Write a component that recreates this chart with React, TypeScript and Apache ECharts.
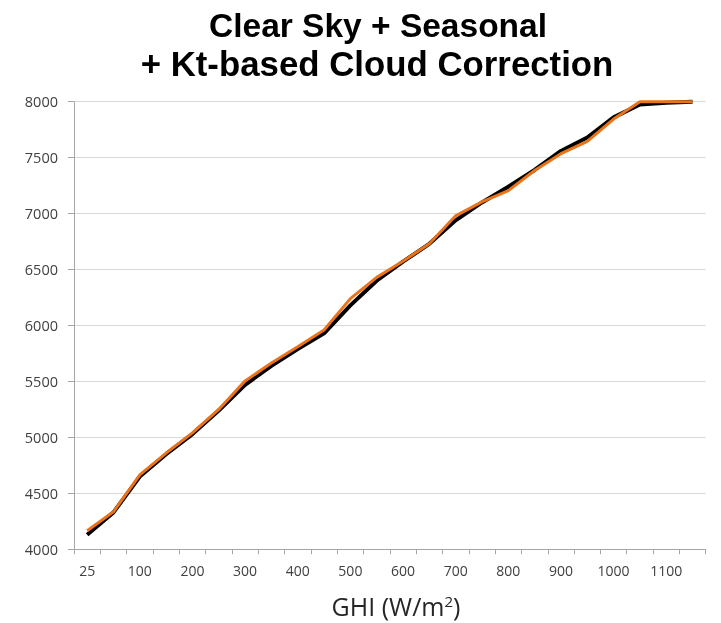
import React, { useEffect, useRef } from "react";
import * as echarts from "echarts";

const categories = ["25", "50", "100", "150", "200", "250", "300", "350", "400", "450", "500", "550", "600", "650", "700", "750", "800", "850", "900", "950", "1000", "1050", "1100", "1150"];
const blackSeries = [4130, 4330, 4650, 4850, 5030, 5240, 5470, 5640, 5790, 5930, 6180, 6400, 6570, 6730, 6940, 7100, 7240, 7390, 7560, 7680, 7860, 7975, 7990, 8000];
const orangeSeries = [4165, 4335, 4665, 4860, 5040, 5250, 5505, 5665, 5810, 5960, 6240, 6430, 6575, 6730, 6980, 7105, 7205, 7385, 7535, 7645, 7845, 8000, 8000, 8000];
const titleLines = ["Clear Sky + Seasonal", "+ Kt-based Cloud Correction"];

export default function App() {
  const ref = useRef<HTMLDivElement>(null);
  useEffect(() => {
    if (!ref.current) return;
    const chart = echarts.init(ref.current, null, { renderer: "svg" });
    chart.setOption({
      animation: false,
      grid: { left: 74, right: 15.3, top: 101.7, bottom: 73.7, containLabel: false },
      xAxis: {
        type: "category",
        data: categories,
        boundaryGap: true,
        axisLine: { show: true, lineStyle: { color: "#A6A6A6", width: 1 } },
        axisTick: { show: true, interval: 0, length: 5, lineStyle: { color: "#A6A6A6" } },
        axisLabel: { interval: 1, margin: 14, color: "#404040", fontFamily: "Open Sans", fontSize: 14 },
        splitLine: { show: false },
      },
      yAxis: {
        type: "value",
        min: 4000,
        max: 8000,
        interval: 500,
        axisLine: { show: true, lineStyle: { color: "#A6A6A6", width: 1 } },
        axisTick: { show: true, length: 6, lineStyle: { color: "#A6A6A6" } },
        axisLabel: {
          margin: 16,
          color: "#404040",
          fontFamily: "Open Sans",
          fontSize: 14.5,
          formatter: (v: number) => String(v),
        },
        splitLine: { show: true, lineStyle: { color: "#D9D9D9", width: 1 } },
      },
      series: [
        {
          type: "line",
          data: blackSeries,
          showSymbol: false,
          clip: false,
          lineStyle: { color: "#000000", width: 4 },
          z: 2,
        },
        {
          type: "line",
          data: orangeSeries,
          showSymbol: false,
          clip: false,
          lineStyle: { color: "#EA7319", width: 3 },
          z: 3,
        },
      ],
      graphic: [
        {
          type: "text",
          x: 378,
          y: 8,
          style: {
            text: titleLines[0],
            fontFamily: "Liberation Sans",
            fontWeight: "bold",
            fontSize: 33.5,
            fill: "#000000",
            align: "center",
            verticalAlign: "top",
          },
        },
        {
          type: "text",
          x: 377,
          y: 45.5,
          style: {
            text: titleLines[1],
            fontFamily: "Liberation Sans",
            fontWeight: "bold",
            fontSize: 34.8,
            fill: "#000000",
            align: "center",
            verticalAlign: "top",
          },
        },
        {
          type: "text",
          x: 396,
          y: 606,
          style: {
            text: "{a|GHI (W/m}{s|2}{a|)}",
            align: "center",
            verticalAlign: "middle",
            rich: {
              a: { fontFamily: "Open Sans", fontSize: 25, fill: "#262626", color: "#262626" },
              s: { fontFamily: "Open Sans", fontSize: 15, fill: "#262626", color: "#262626", verticalAlign: "top", padding: [0, 0, 10, 0] },
            },
          },
        },
      ],
    });
    return () => chart.dispose();
  }, []);
  return <div ref={ref} style={{ position: "fixed", left: 0, top: 0, width: 721, height: 623 }} />;
}
